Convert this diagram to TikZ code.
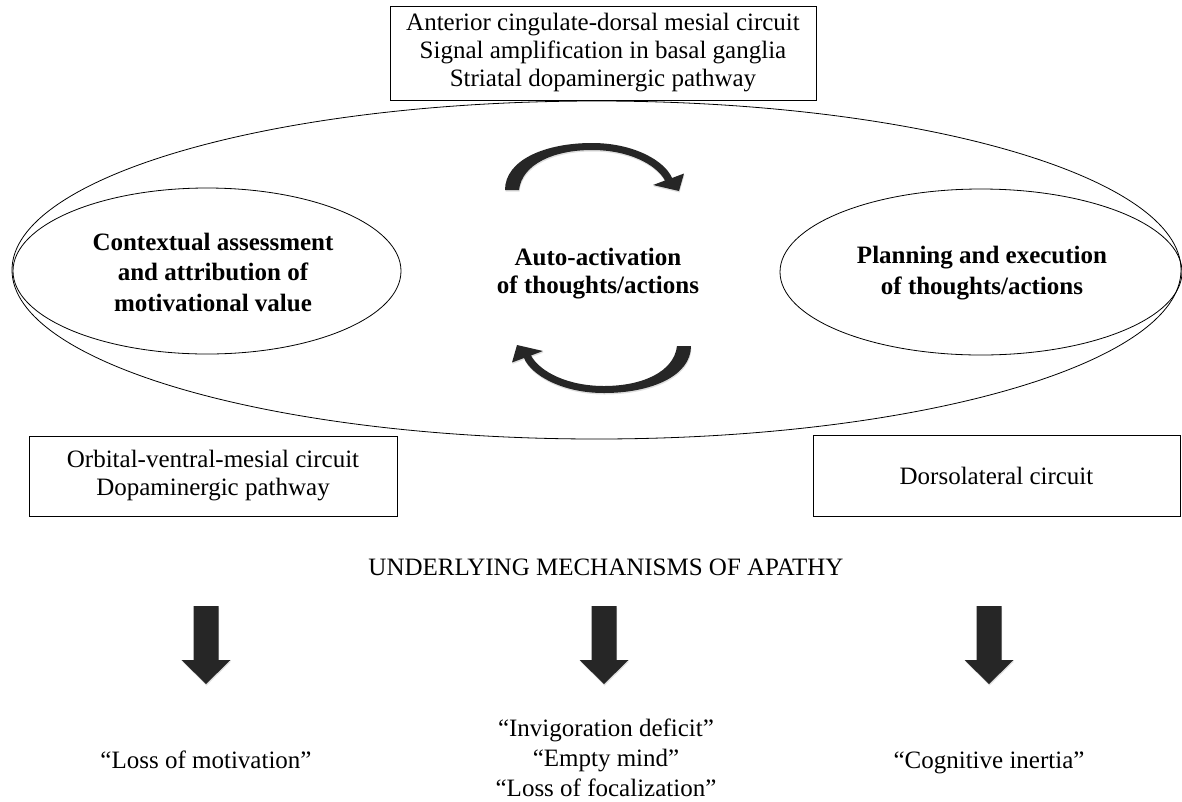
\documentclass[tikz,border=0pt]{standalone}
\usepackage{fontspec}
\setmainfont{Liberation Serif}
\usetikzlibrary{shapes.geometric,shadows}
\definecolor{arrowgray}{HTML}{262626}
\tikzset{
  downarrow/.pic={
    \fill[arrowgray, drop shadow={opacity=0.25, shadow xshift=0.5pt, shadow yshift=-1.5pt}]
      (-12.5,0) -- (12.5,0) -- (12.5,54) -- (24.5,54) -- (0,78) -- (-24.5,54) -- (-12.5,54) -- cycle;
  },
  curvarrow/.pic={
    \fill[arrowgray, drop shadow={opacity=0.25, shadow xshift=0.5pt, shadow yshift=-1.5pt}]
      (-93,-78) .. controls (-93,-108) and (-53,-125) .. (-6,-125)
      .. controls (36,-125) and (67,-107) .. (74,-90)
      -- (86,-94.5) -- (81,-77) -- (55,-83) -- (67,-87.5)
      .. controls (58,-104) and (30,-118) .. (-6,-118)
      .. controls (-44,-118) and (-76,-104) .. (-79,-78) -- cycle;
  }
}
\begin{document}
\begin{tikzpicture}[x=1pt,y=-1pt,
  txt/.style={font=\fontsize{25}{28}\selectfont, align=center, inner sep=2pt},
  box/.style={draw, line width=0.8pt, txt},
  oval/.style={draw, ellipse, line width=0.8pt, inner sep=0pt},
  boldtxt/.style={align=center, inner sep=2pt, font=\fontsize{25}{30.5}\selectfont\bfseries}
]
\useasboundingbox (0,0) rectangle (1182,801);

% big outer ellipse
\node[oval, minimum width=1169pt, minimum height=338pt] (outer) at (596.5,270) {};

% inner ellipses
\node[oval, minimum width=388pt, minimum height=166pt] (context) at (207,271) {};
\node[oval, minimum width=402pt, minimum height=166pt] (plan) at (981,272) {};

% ellipse texts
\node[boldtxt] (contextlabel) at (213,272)
  {Contextual assessment\\and attribution of\\motivational value};
\node[boldtxt] (planlabel) at (982,273)
  {Planning and execution\\of thoughts/actions};
\node[boldtxt, font=\fontsize{25}{28}\selectfont\bfseries] (auto) at (598,274)
  {Auto-activation\\of thoughts/actions};

% boxes
\node[box, fill=white, minimum width=426pt, minimum height=94pt] (top) at (603,53)
  {Anterior cingulate-dorsal mesial circuit\\Signal amplification in basal ganglia\\Striatal dopaminergic pathway};
\node[box, minimum width=368pt, minimum height=80pt] (ovm) at (213,476)
  {Orbital-ventral-mesial circuit\\Dopaminergic pathway};
\node[box, minimum width=367pt, minimum height=81pt] (dl) at (996.5,475.5)
  {Dorsolateral circuit};

% curved arrows
\pic at (598,268) {curvarrow};
\pic[rotate=180] at (598,268) {curvarrow};

% title
\node[txt] (title) at (606,567) {UNDERLYING MECHANISMS OF APATHY};

% down arrows
\pic at (206,606) {downarrow};
\pic at (604,606) {downarrow};
\pic at (989,606) {downarrow};

% outcomes
\node[txt, anchor=base] (motiv) at (206,768) {“Loss of motivation”};
\node[txt, font=\fontsize{25}{30}\selectfont] (mid) at (606,758)
  {“Invigoration deficit”\\“Empty mind”\\“Loss of focalization”};
\node[txt, anchor=base] (inertia) at (989,768) {“Cognitive inertia”};
\end{tikzpicture}
\end{document}
